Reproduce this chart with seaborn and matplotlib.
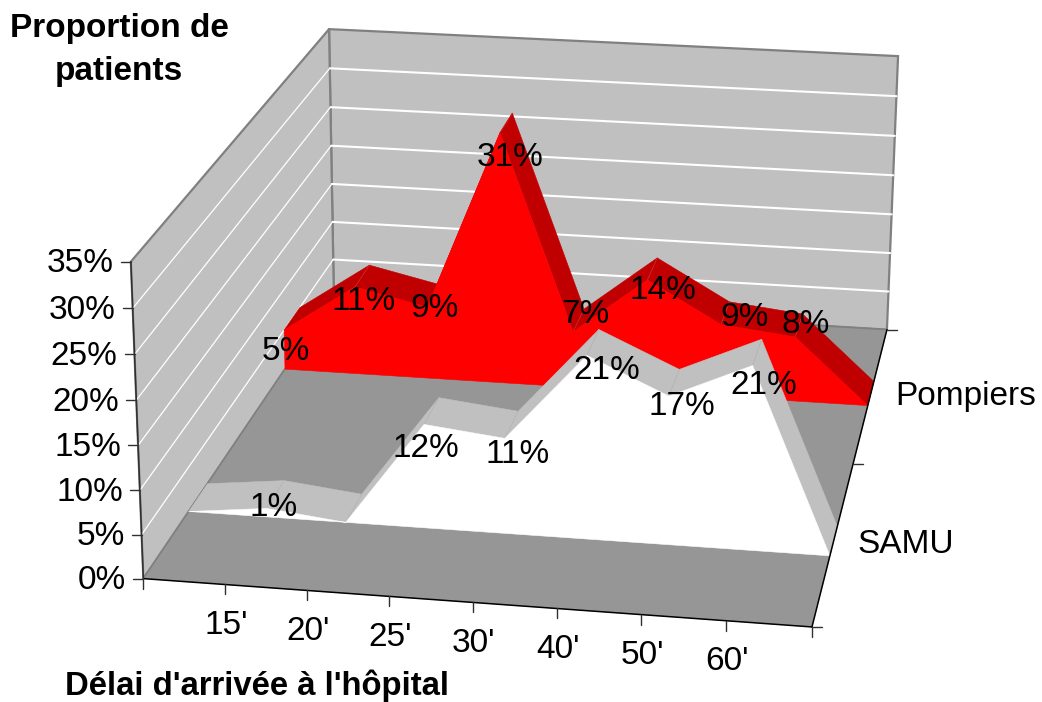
import numpy as np
import pandas as pd
import matplotlib
matplotlib.use("Agg")
import matplotlib.pyplot as plt
import seaborn as sns

# ---- data ----
categories = ["", "15'", "20'", "25'", "30'", "40'", "50'", "60'", ""]
pompiers = [5, 11, 9, 31, 7, 14, 9, 8, 0]
samu = [0, 1, 0, 12, 11, 21, 17, 21, 0]
pompiers_labels = ["5%", "11%", "9%", "31%", "7%", "14%", "9%", "8%", ""]
samu_labels = ["", "1%", "", "12%", "11%", "21%", "17%", "21%", ""]
series_names = ["SAMU", "Pompiers"]
value_ticks = [0, 5, 10, 15, 20, 25, 30, 35]
y_title = "Proportion de\npatients"
x_title = "Délai d'arrivée à l'hôpital"

# ---- layout: camera calibration of the 3D box (box coordinates -> figure pixels) ----
W, H = 1042, 702
BOX_X, BOX_Y, BOX_Z = 8, 35, 2
FS = 24
calib = [((0, 0, 0), (143, 578)), ((8, 0, 0), (812, 627)), ((8, 0, 2), (887, 330)),
         ((0, 0, 2), (334, 297)), ((0, 35, 0), (131, 262)), ((0, 35, 2), (329, 29)),
         ((8, 35, 2), (898, 56)), ((4, 0, 0), (473, 603)), ((8, 0, 1), (853, 463))]
A = []
b = []
for (x, y, z), (u, v) in calib:
    A.append([x, y, z, 1, 0, 0, 0, 0, -u * x, -u * y, -u * z]); b.append(u)
    A.append([0, 0, 0, 0, x, y, z, 1, -v * x, -v * y, -v * z]); b.append(v)
P = np.append(np.linalg.lstsq(np.array(A, float), np.array(b, float), rcond=None)[0], 1).reshape(3, 4)


def proj(x, y, z):
    p = P @ np.array([x, y, z, 1.0])
    return p[0] / p[2], p[1] / p[2]


def poly(ax, pts, color, zorder, edge=None, lw=0.4):
    xy = [proj(*p) for p in pts]
    ax.fill([q[0] for q in xy], [q[1] for q in xy], facecolor=color,
            edgecolor=edge or color, linewidth=lw, zorder=zorder)


sns.set_theme(style="white")
plt.rcParams["font.family"] = ["Liberation Sans", "DejaVu Sans"]
fig = plt.figure(figsize=(W / 100, H / 100), dpi=100)
ax = fig.add_axes([0, 0, 1, 1])
ax.set_xlim(0, W)
ax.set_ylim(H, 0)
ax.axis("off")

WALL, FLOOR, EDGE = "#C0C0C0", "#969696", "#808080"
# walls and floor
poly(ax, [(0, 0, 2), (8, 0, 2), (8, 35, 2), (0, 35, 2)], WALL, 1, EDGE, 1.6)
poly(ax, [(0, 0, 0), (0, 0, 2), (0, 35, 2), (0, 35, 0)], WALL, 1, EDGE, 1.6)
poly(ax, [(0, 0, 0), (8, 0, 0), (8, 0, 2), (0, 0, 2)], FLOOR, 2, FLOOR, 0.4)
back_floor = [proj(0, 0, 2), proj(8, 0, 2)]
ax.plot(*zip(*back_floor), color=EDGE, lw=1.2, zorder=3)
side_floor = [proj(0, 0, 0), proj(0, 0, 2)]
ax.plot(*zip(*side_floor), color=EDGE, lw=1.0, zorder=3)

# gridlines
rows = []
for v in value_ticks[1:-1]:
    for s in (0, 1):
        rows.append(dict(level=v, part="back", seg=s, px=proj(8 * s, v, 2)[0], py=proj(8 * s, v, 2)[1]))
        rows.append(dict(level=v, part="side", seg=s, px=proj(0, v, 2 * s)[0], py=proj(0, v, 2 * s)[1]))
grid = pd.DataFrame(rows)
sns.lineplot(data=grid[grid.part == "back"], x="px", y="py", units="level", estimator=None, sort=False,
             color="white", lw=1.5, legend=False, ax=ax, zorder=3)
sns.lineplot(data=grid[grid.part == "side"], x="px", y="py", units="level", estimator=None, sort=False,
             color="white", lw=0.9, legend=False, ax=ax, zorder=3)
ax.set_xlabel("")
ax.set_ylabel("")
ax.set_xlim(0, W)
ax.set_ylim(H, 0)

# series
DEPTH = 0.09
series = [(pompiers, 1.5, "#FF0000", "#C00000", "#D03030", 10), (samu, 0.5, "#FFFFFF", "#C0C0C0", "#B4B4B4", 20)]
for vals, zc, front, top, seam, zo in series:
    zf, zb = zc - DEPTH, zc + DEPTH
    for i in range(len(vals) - 1):
        poly(ax, [(i, vals[i], zf), (i + 1, vals[i + 1], zf), (i + 1, vals[i + 1], zb), (i, vals[i], zb)], top, zo)
    for i in range(1, len(vals) - 1):
        ax.plot(*zip(proj(i, vals[i], zf), proj(i, vals[i], zb)), color=seam, lw=0.5, zorder=zo)
    outline = [(i, v, zf) for i, v in enumerate(vals)] + [(len(vals) - 1, 0, zf), (0, 0, zf)]
    poly(ax, outline, front, zo + 1)

# axes lines and ticks
AX = "#000000"
ax.plot(*zip(proj(0, 0, 0), proj(8, 0, 0)), color=AX, lw=1.1, zorder=40)
ax.plot(*zip(proj(8, 0, 0), proj(8, 0, 2)), color=AX, lw=1.1, zorder=40)
ax.plot(*zip(proj(0, 0, 0), proj(0, 35, 0)), color="#303030", lw=1.1, zorder=40)
for v in value_ticks:
    u, w = proj(0, v, 0)
    ax.plot([u - 10, u], [w, w], color="#303030", lw=1, zorder=40)
    ax.text(u - 17, w + 2, f"{v}%", ha="right", va="center", fontsize=FS, color="black", zorder=50)
for i, c in enumerate(categories):
    u, w = proj(i, 0, 0)
    ax.plot([u, u], [w, w + 10], color="#303030", lw=1, zorder=40)
    if c:
        ax.text(u + 1, w + 41, c, ha="center", va="center", fontsize=FS, color="black", zorder=50)
for z in range(BOX_Z + 1):
    u, w = proj(8, 0, z)
    ax.plot([u, u + 10], [w, w], color="#303030", lw=1, zorder=40)
for name, z in zip(series_names, (0.5, 1.5)):
    u, w = proj(8, 0, z)
    ax.text(u + 24, w + 3, name, ha="left", va="center", fontsize=FS, color="black", zorder=50)

# data labels, pixel offsets from the front-top point
pomp_off = [(2, 21), (9, 15), (7, 1), (10, 25), (12, -17), (15, 11), (24, -7), (10, -13), (0, 0)]
samu_off = [(0, 0), (7, -1), (0, 0), (2, 24), (13, 16), (20, 15), (13, 10), (11, 20), (0, 0)]
for vals, labs, offs, zc in [(pompiers, pompiers_labels, pomp_off, 1.5), (samu, samu_labels, samu_off, 0.5)]:
    for i, (v, lab, off) in enumerate(zip(vals, labs, offs)):
        if lab:
            u, w = proj(i, v, zc - DEPTH)
            ax.text(u + off[0], w + off[1], lab, ha="center", va="center", fontsize=FS, color="black", zorder=60)

# titles
ax.text(119, 50, y_title, ha="center", va="center", fontsize=FS, fontweight="bold", linespacing=1.5, color="black", zorder=60)
ax.text(257, 686, x_title, ha="center", va="center", fontsize=23.7, fontweight="bold", color="black", zorder=60)

fig.savefig("out.png", dpi=100)
